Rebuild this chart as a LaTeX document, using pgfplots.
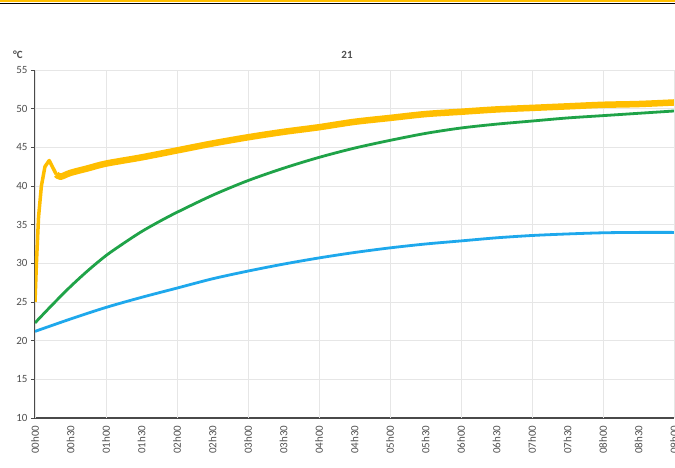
\documentclass[border=0pt]{standalone}
\usepackage{fontspec}
\setmainfont{Carlito}
\usepackage{pgfplots}
\pgfplotsset{compat=1.18}
\definecolor{cyel}{HTML}{FFBE00}
\definecolor{cgrn}{HTML}{1FA348}
\definecolor{cblu}{HTML}{1EA8EC}
\definecolor{ctxt}{HTML}{505050}
\definecolor{caxis}{HTML}{4A4A4A}
\definecolor{cgrid}{HTML}{E6E6E6}
\begin{document}
\begin{tikzpicture}
\path[use as bounding box, clip] (0,0) rectangle (675pt,467pt);
\fill[white] (0,0) rectangle (675pt,467pt);
\begin{axis}[
  at={(35pt,49pt)}, anchor=south west,
  scale only axis, width=639pt, height=348pt,
  xmin=0, xmax=9, ymin=10, ymax=55,
  axis x line*=bottom, axis y line*=left,
  axis line style={caxis, line width=1.4pt},
  ytick={10,15,...,55},
  xtick={0,0.5,...,9},
  xticklabels={00h00,00h30,01h00,01h30,02h00,02h30,03h00,03h30,04h00,04h30,05h00,05h30,06h00,06h30,07h00,07h30,08h00,08h30,09h00},
  x tick label style={rotate=90, anchor=east, font=\fontsize{11}{13}\selectfont, text=ctxt},
  y tick label style={font=\fontsize{11}{13}\selectfont, text=ctxt},
  /pgf/number format/assume math mode=true,
  major x tick style={draw=none},
  extra x ticks={0,1,...,9},
  extra x tick labels={},
  extra x tick style={grid=major, major grid style={cgrid, line width=0.8pt}, major tick style={caxis, line width=1pt}, major tick length=4pt, tick align=outside},
  ymajorgrids, major grid style={cgrid, line width=0.8pt},
  ytick style={caxis, line width=1pt}, major tick length=4pt, tick align=outside,
  clip=true,
]
\addplot[cblu, line width=2.8pt, smooth] coordinates {
(0,21.2) (0.5,22.8) (1,24.3) (1.5,25.6) (2,26.8) (2.5,28.0) (3,29.0) (3.5,29.9) (4,30.7) (4.5,31.4) (5,32.0) (5.5,32.5) (6,32.9) (6.5,33.3) (7,33.6) (7.5,33.8) (8,33.95) (8.5,34.0) (9,34.0)
};
\addplot[cgrn, line width=2.8pt, smooth] coordinates {
(0,22.3) (0.25,24.7) (0.5,27.0) (0.75,29.1) (1,31.0) (1.25,32.6) (1.5,34.1) (1.75,35.4) (2,36.6) (2.5,38.8) (3,40.7) (3.5,42.3) (4,43.7) (4.5,44.9) (5,45.9) (5.5,46.8) (6,47.5) (6.5,48.0) (7,48.4) (7.5,48.8) (8,49.1) (8.5,49.4) (9,49.7)
};
\addplot[cyel, line width=3.5pt, line join=round] coordinates {
(0,25) (0.02,30) (0.05,36) (0.09,40) (0.14,42.5) (0.2,43.3) (0.25,42.4) (0.3,41.5)
};
\addplot[cyel, line width=6.5pt, line join=round, smooth] coordinates {
(0.3,41.5) (0.36,41.2) (0.5,41.7) (0.75,42.3) (1,42.9) (1.5,43.7) (2,44.6) (2.5,45.5) (3,46.3) (3.5,47.0) (4,47.6) (4.5,48.3) (5,48.8) (5.5,49.3) (6,49.6) (6.5,49.9) (7,50.1) (7.5,50.3) (8,50.5) (8.5,50.6) (9,50.8)
};
\end{axis}
\node[font=\fontsize{11}{13}\selectfont\bfseries, text=ctxt] at (347pt,412pt) {21};
\node[font=\fontsize{11}{13}\selectfont\bfseries, text=ctxt] at (18pt,412pt) {°C};
\fill[cyel] (0,464.5pt) rectangle (675pt,467pt);
\draw[black, line width=1.2pt] (0,463.8pt) -- (675pt,463.8pt);
\end{tikzpicture}
\end{document}
